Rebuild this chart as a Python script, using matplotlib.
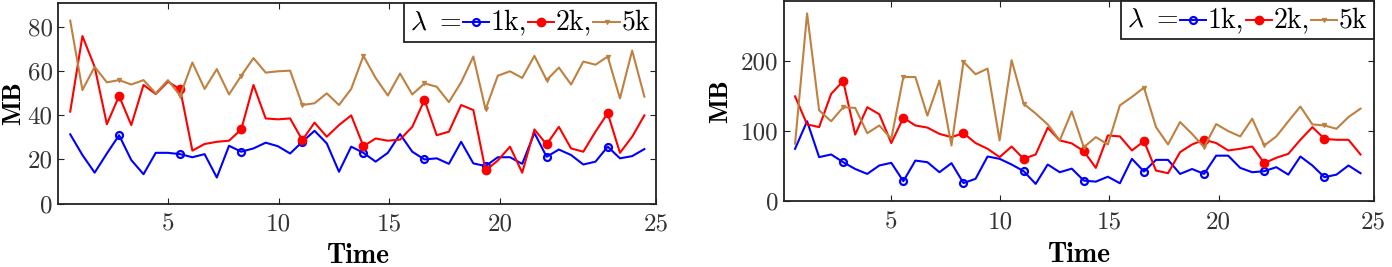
import numpy as np
import matplotlib
matplotlib.use("Agg")
import matplotlib.pyplot as plt
from matplotlib.lines import Line2D
from matplotlib.offsetbox import TextArea, DrawingArea, HPacker, AnchoredOffsetbox

plt.rcParams['font.family'] = 'cmr10'
plt.rcParams['mathtext.fontset'] = 'cm'
plt.rcParams['axes.formatter.use_mathtext'] = True

# time axis (48 samples)
time = np.round(0.594 + 0.5513 * np.arange(48), 3)

# left panel
left_1k = [31.4, 22, 14, 22.7, 31, 19.7, 13.3, 23, 23, 22.4, 21, 22.4,
           11.8, 26.2, 23.5, 25, 27.6, 26, 22.7, 28, 33, 27.3, 14.4, 25.8,
           23, 19, 23, 31.5, 23.5, 20, 20.5, 18, 28, 18.2, 17, 21,
           21, 18, 32, 21.2, 24.5, 22, 17.7, 19, 25.8, 20.5, 21.5, 24.7]
left_2k = [41.7, 76, 62, 36, 48.8, 35.6, 53.8, 49.7, 55.3, 51.8, 24, 27,
           28, 28.5, 33.6, 53.8, 38.6, 38.2, 38.6, 28.8, 36.7, 30.3, 35.6, 40,
           26, 29.5, 28.5, 29, 34.8, 47, 31, 32.6, 44.7, 42.4, 15, 19.5,
           25.8, 14, 33.6, 26.8, 34.8, 25, 23.5, 32.6, 41, 23, 30.3, 40]
left_5k = [83, 51.5, 62, 55, 56, 54, 56, 50, 56, 49, 64, 52,
           61, 49.5, 58, 66, 59.4, 60, 60.3, 44.7, 45.5, 50, 44.7, 52,
           67, 57, 49, 59, 49.5, 54.5, 53, 46, 55, 66.7, 42.7, 58,
           60, 57, 67, 56, 61.7, 54, 64.4, 63, 66.7, 47.7, 69.4, 48.5]

# right panel
right_1k = [74.8, 114, 62.9, 66.7, 55.7, 46, 39, 51, 54.8, 28.6, 58, 55.7,
            41.4, 54.3, 26, 32, 63.8, 60.5, 52.4, 42.9, 24.8, 52.4, 41.4, 46.5,
            29.5, 28, 35, 25.7, 60.5, 42.4, 59, 59, 39, 46, 39, 65,
            65, 47.6, 41.4, 42.9, 48.6, 38, 63.8, 51, 34.3, 38, 51, 40]
right_2k = [149.5, 109.5, 105.7, 153, 171.4, 95, 134, 124, 83, 119, 108, 105,
            96, 91.4, 97, 83, 74.8, 62.9, 78, 60.5, 66.7, 104.8, 86.7, 82.5,
            71.4, 47.6, 93.8, 92.4, 72.4, 85.7, 43.8, 40, 70, 81, 87.6, 83,
            72.4, 74.8, 78, 54.3, 62, 67.6, 87.6, 105.7, 89, 87.6, 87.6, 66.7]
right_5k = [82, 267.6, 129.5, 114, 134, 133, 97, 108, 89, 177, 177, 122,
            172, 79.5, 198.6, 181, 189, 86.7, 201, 139, 125, 109.5, 86.7, 128,
            77, 91.4, 81, 136.7, 148.6, 162, 105.7, 81, 112.9, 96, 77, 110,
            100, 92.4, 117.6, 79.5, 92.4, 114, 135, 109.5, 108, 103.3, 120, 132]

tick_pos = [5, 10, 15, 20]
tick_labels = ['5', '10', '15', '20', '25']
series_labels = ['1k,', '2k,', '5k']

BLUE = '#0000ff'
RED = '#ff0000'
BROWN = '#bf8040'
styles = [
    dict(color=BLUE, marker='o', ms=5, mfc='none', mew=1.6),
    dict(color=RED, marker='o', ms=6, mfc=RED, mew=1.0),
    dict(color=BROWN, marker='v', ms=3, mfc=BROWN, mew=0.8),
]

fig = plt.figure(figsize=(13.92, 2.67), dpi=100)
ax1 = fig.add_axes([58.3 / 1392, 1 - 203.5 / 267, 597.7 / 1392, 200.5 / 267])
ax2 = fig.add_axes([784 / 1392, 1 - 201.3 / 267, 589.5 / 1392, 200.8 / 267])


def add_legend(ax):
    items = [TextArea(r'$\lambda\ =$', textprops=dict(fontsize=20))]
    for st, lab in zip(styles, series_labels):
        da = DrawingArea(19, 10, 0, 0)
        ln = Line2D([0, 9.5, 19], [5, 5, 5], lw=1.4, markevery=[1], **st)
        da.add_artist(ln)
        items.append(da)
        items.append(TextArea(lab, textprops=dict(fontsize=20)))
    box = HPacker(children=items, align='center', pad=0, sep=1)
    anch = AnchoredOffsetbox(loc='upper right', child=box, pad=0.45,
                             borderpad=0.0, frameon=True)
    anch.patch.set_edgecolor('#222222')
    anch.patch.set_linewidth(1.3)
    anch.patch.set_boxstyle('square', pad=0)
    ax.add_artist(anch)


def style(ax, ylim, yticks, xlim, lab_x, xlab_y):
    ax.set_xlim(*xlim)
    ax.set_ylim(*ylim)
    ax.set_xticks(tick_pos + [xlim[1]])
    ax.set_xticklabels(tick_labels)
    ax.set_yticks(yticks)
    ax.set_yticklabels([str(v) for v in yticks])
    ax.tick_params(direction='in', length=4, width=0.8, top=True, right=True,
                   labelsize=18, colors='#222222', labelcolor='#333333')
    ax.tick_params(axis='x', pad=7)
    ax.tick_params(axis='y', pad=4)
    for s in ax.spines.values():
        s.set_linewidth(1.3)
        s.set_color('#222222')
    ax.set_ylabel('MB', family='cmb10', fontsize=19)
    ax.set_xlabel('Time', family='cmb10', fontsize=20, va='top')
    ax.yaxis.set_label_coords(lab_x, 0.5)
    ax.xaxis.set_label_coords(0.5, xlab_y)


for ax, data in ((ax1, (left_1k, left_2k, left_5k)),
                 (ax2, (right_1k, right_2k, right_5k))):
    for vals, st in zip(data, styles):
        ax.plot(time, vals, lw=1.5, markevery=slice(4, None, 5), **st)

style(ax1, (0, 91), [0, 20, 40, 60, 80], (0.056, 27.03), -0.056, -0.197)
style(ax2, (0, 286), [0, 100, 200], (0.087, 27.1), -0.088, -0.203)
add_legend(ax1)
add_legend(ax2)

fig.savefig('out.png', dpi=100)
